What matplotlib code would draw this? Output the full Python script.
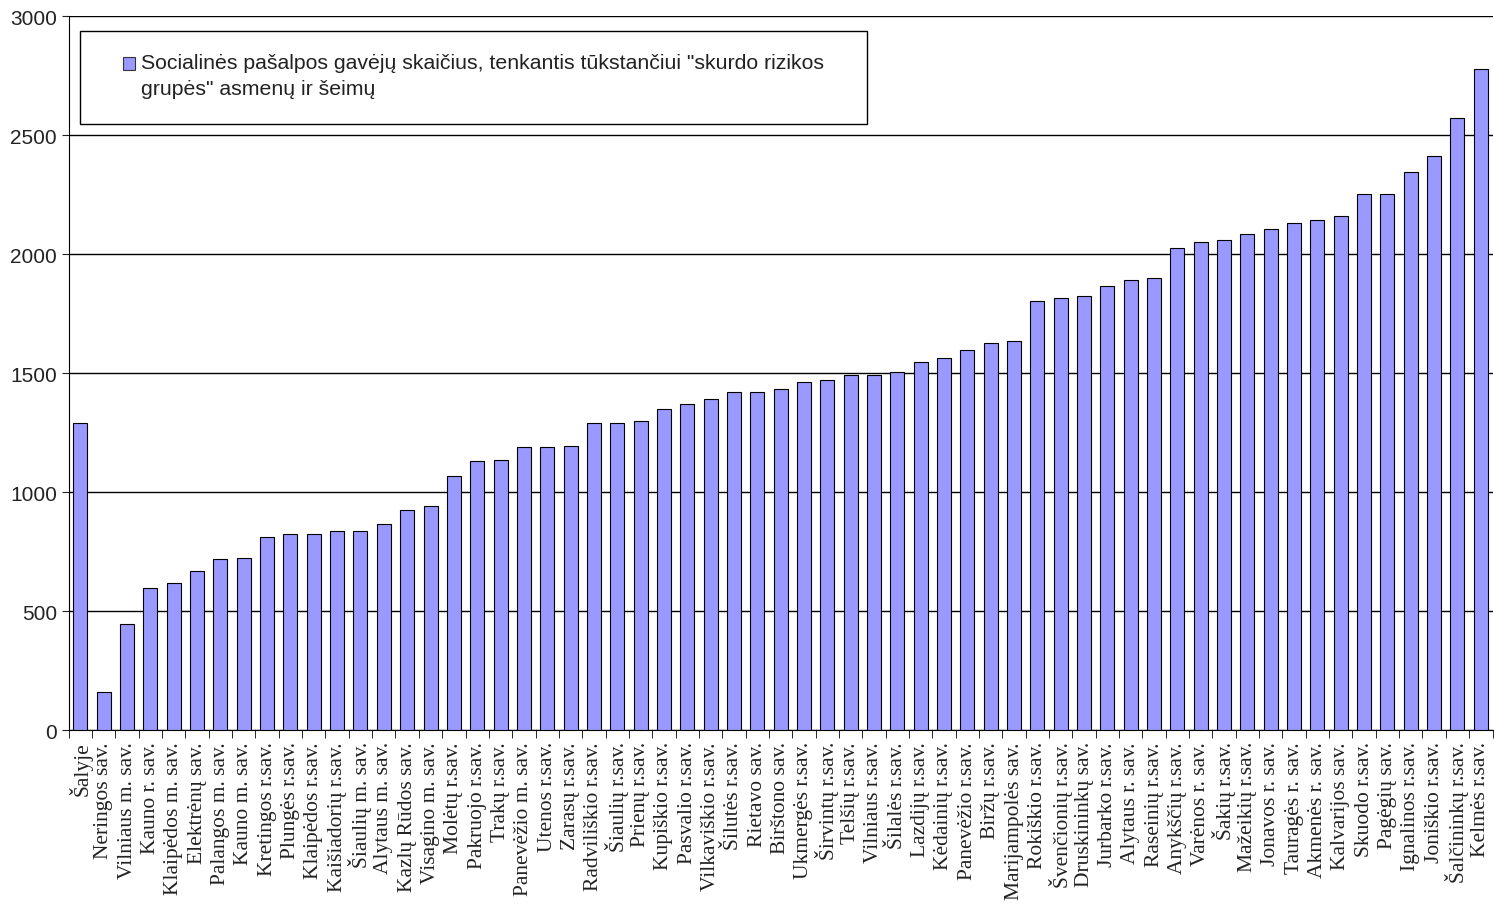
import matplotlib
matplotlib.use("Agg")
import matplotlib.pyplot as plt
from matplotlib.patches import Rectangle
import numpy as np

# savivaldybes ir reiksmes (nuskaityta is paveikslo)
labels = ["Šalyje", "Neringos sav.", "Vilniaus m. sav.", "Kauno r. sav.", "Klaipėdos m. sav.",
          "Elektrėnų sav.", "Palangos m. sav.", "Kauno m. sav.", "Kretingos r.sav.", "Plungės r.sav.",
          "Klaipėdos r.sav.", "Kaišiadorių r.sav.", "Šiaulių m. sav.", "Alytaus m. sav.",
          "Kazlų Rūdos sav.", "Visagino m. sav.", "Molėtų r.sav.", "Pakruojo r.sav.", "Trakų r.sav.",
          "Panevėžio m. sav.", "Utenos r.sav.", "Zarasų r.sav.", "Radviliškio r.sav.",
          "Šiaulių r.sav.", "Prienų r.sav.", "Kupiškio r.sav.", "Pasvalio r.sav.",
          "Vilkaviškio r.sav.", "Šilutės r.sav.", "Rietavo sav.", "Birštono sav.",
          "Ukmergės r.sav.", "Širvintų r.sav.", "Telšių r.sav.", "Vilniaus r.sav.",
          "Šilalės r.sav.", "Lazdijų r.sav.", "Kėdainių r.sav.", "Panevėžio r.sav.", "Biržų r.sav.",
          "Marijampolės sav.", "Rokiškio r.sav.", "Švenčionių r.sav.", "Druskininkų sav.",
          "Jurbarko r.sav.", "Alytaus r. sav.", "Raseinių r.sav.", "Anykščių r.sav.",
          "Varėnos r. sav.", "Šakių r.sav.", "Mažeikių r.sav.", "Jonavos r. sav.",
          "Tauragės r. sav.", "Akmenės r. sav.", "Kalvarijos sav.", "Skuodo r.sav.",
          "Pagėgių sav.", "Ignalinos r.sav.", "Joniškio r.sav.", "Šalčininkų r.sav.", "Kelmės r.sav."]
values = [1290, 160, 445, 597, 618, 668, 718, 723, 811, 824,
          824, 836, 836, 866, 924, 941, 1067, 1130, 1134, 1189,
          1189, 1193, 1290, 1290, 1298, 1349, 1370, 1391, 1420, 1420,
          1433, 1462, 1471, 1492, 1492, 1504, 1546, 1563, 1597, 1626,
          1634, 1803, 1815, 1824, 1866, 1891, 1899, 2025, 2050, 2059,
          2084, 2105, 2130, 2143, 2160, 2252, 2252, 2345, 2412, 2571, 2777]
series_name = 'Socialinės pašalpos gavėjų skaičius, tenkantis tūkstančiui "skurdo rizikos\ngrupės" asmenų ir šeimų'
bar_color = "#9999FF"

fig = plt.figure(figsize=(14.94, 9.2), dpi=100)
ax = fig.add_axes([0.046, 0.2054, 0.953, 0.7761])

x = np.arange(len(values))
ax.bar(x, values, width=0.6, color=bar_color, edgecolor="black", linewidth=0.8, zorder=3)

ax.set_ylim(0, 3000)
ax.set_xlim(-0.5, len(values) - 0.5)
ax.set_yticks(range(0, 3001, 500))
ax.yaxis.grid(True, color="black", linewidth=1.0, zorder=0)
for s in ["top", "right"]:
    ax.spines[s].set_visible(False)

ax.set_xticks(x)
ax.set_xticklabels(labels, rotation=90, family="Liberation Serif", fontsize=15.5, color="#222222")
ax.tick_params(axis="x", which="major", length=0, pad=8)
ax.set_xticks(np.arange(-0.5, len(values), 1.0), minor=True)
ax.tick_params(axis="x", which="minor", length=6, direction="out")
ax.tick_params(axis="y", length=5, direction="out", labelsize=15, colors="#222222")
for t in ax.get_yticklabels():
    t.set_family("Liberation Sans")

# legenda su remeliu
fig.patches.append(Rectangle((0.0535, 0.8641), 0.5268, 0.1011, transform=fig.transFigure,
                             facecolor="white", edgecolor="black", linewidth=1.0, zorder=5))
fig.patches.append(Rectangle((0.0823, 0.9228), 0.008, 0.0145, transform=fig.transFigure,
                             facecolor=bar_color, edgecolor="#333333", linewidth=0.8, zorder=6))
fig.text(0.0944, 0.9415, series_name, ha="left", va="top", family="Liberation Sans",
         fontsize=15.3, color="#222222", linespacing=1.5, zorder=7)

fig.savefig("out.png", dpi=100)
